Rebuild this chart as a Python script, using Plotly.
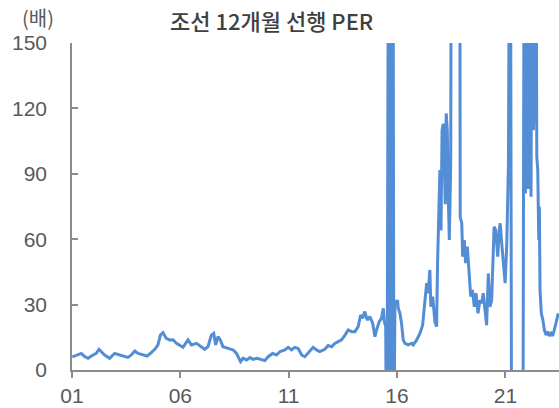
import plotly.graph_objects as go

# 조선 12개월 선행 PER (배) — 값은 그림에서 읽은 근사치
DATES = [
    "2001-01-05", "2001-03-15", "2001-06-05", "2001-08-01", "2001-09-28", "2001-12-20",
    "2002-02-15", "2002-04-01", "2002-05-10", "2002-07-05", "2002-09-28", "2002-12-20",
    "2003-03-15", "2003-06-05", "2003-08-01", "2003-09-28", "2003-11-25",
    "2004-01-20", "2004-04-12", "2004-06-18", "2004-08-15", "2004-10-28", "2004-12-20",
    "2005-01-30", "2005-03-15", "2005-05-10", "2005-07-05", "2005-09-01", "2005-10-28", "2005-12-25",
    "2006-02-15", "2006-05-10", "2006-07-08", "2006-10-01", "2006-12-25",
    "2007-02-15", "2007-04-12", "2007-06-08", "2007-07-18", "2007-08-20", "2007-09-28",
    "2007-11-05", "2007-12-20",
    "2008-03-18", "2008-06-10", "2008-08-05", "2008-10-12", "2008-11-25",
    "2009-01-22", "2009-03-18", "2009-05-12", "2009-07-18", "2009-10-01", "2009-11-25",
    "2010-01-20", "2010-04-05", "2010-06-10", "2010-08-05", "2010-10-28", "2010-12-25",
    "2011-02-18", "2011-04-15", "2011-06-10", "2011-08-08", "2011-10-01", "2011-11-25",
    "2012-02-18", "2012-04-15", "2012-06-10", "2012-09-01", "2012-10-28", "2012-12-25",
    "2013-02-18", "2013-04-15", "2013-06-10", "2013-08-08", "2013-10-01", "2013-11-28",
    "2014-01-22", "2014-03-18", "2014-04-28", "2014-06-01", "2014-07-08", "2014-08-18",
    "2014-10-01", "2014-11-18", "2014-12-25",
    "2015-01-22", "2015-03-08", "2015-04-15", "2015-05-15", "2015-06-01", "2015-06-25",
    "2015-07-05", "2015-07-22", "2015-08-18", "2015-09-01", "2015-09-20", "2015-10-08",
    "2015-10-22", "2015-11-10", "2015-11-28",
    "2016-01-12", "2016-01-22", "2016-02-20", "2016-03-18", "2016-04-15", "2016-05-15",
    "2016-07-08", "2016-09-05", "2016-10-01", "2016-11-28",
    "2017-01-22", "2017-03-08", "2017-04-15", "2017-05-15", "2017-06-10", "2017-07-08",
    "2017-07-25", "2017-08-25", "2017-10-01", "2017-10-30", "2017-11-15", "2017-12-08",
    "2017-12-24",
    "2018-01-12", "2018-01-30", "2018-02-20", "2018-03-08", "2018-03-25", "2018-04-10",
    "2018-04-28", "2018-05-15", "2018-06-01", "2018-06-25", "2018-07-10", "2018-09-05",
    "2018-11-20", "2018-12-02", "2018-12-28",
    "2019-01-12", "2019-02-08", "2019-03-02", "2019-04-01", "2019-04-28", "2019-05-28",
    "2019-06-25", "2019-07-28", "2019-08-25", "2019-09-28", "2019-10-30", "2019-12-02",
    "2019-12-25",
    "2020-01-22", "2020-02-20", "2020-03-20", "2020-04-15", "2020-05-15", "2020-06-25",
    "2020-07-22", "2020-08-25", "2020-09-20", "2020-10-05", "2020-11-01", "2020-11-28",
    "2020-12-28",
    "2021-01-25", "2021-02-22", "2021-03-22", "2021-04-15", "2021-10-25", "2021-11-20",
    "2021-12-05",
    "2022-01-01", "2022-01-22", "2022-02-12", "2022-03-10", "2022-04-01", "2022-04-18",
    "2022-05-05", "2022-05-22", "2022-06-15", "2022-07-01", "2022-07-18", "2022-07-28",
    "2022-08-08", "2022-08-30", "2022-09-25", "2022-10-20", "2022-11-18", "2022-12-15",
    "2023-01-12", "2023-02-10", "2023-03-10", "2023-04-05", "2023-05-05", "2023-06-12",
]
PER = [
    6.0, 6.9, 7.6, 6.2, 5.4, 6.9,
    7.6, 9.5, 8.4, 6.9, 5.4, 7.6,
    6.9, 6.4, 5.8, 6.9, 8.7,
    7.6, 6.9, 6.4, 7.6, 9.5, 11.5,
    16.0, 17.1, 14.5, 13.8, 13.9, 12.2, 11.2,
    10.4, 13.8, 11.5, 12.2, 10.7,
    9.5, 10.7, 16.0, 16.8, 11.5, 15.3,
    13.8, 10.7,
    9.9, 9.2, 7.6, 3.8, 5.4,
    4.6, 5.7, 4.9, 5.4, 4.6, 4.3,
    6.1, 7.6, 6.9, 8.4, 9.2, 10.4,
    9.2, 10.4, 9.9, 6.9, 6.1, 7.6,
    10.4, 9.2, 8.4, 9.5, 11.2, 10.7,
    12.2, 13.0, 13.8, 16.0, 18.4, 17.6,
    17.6, 19.9, 25.2, 23.7, 26.8, 22.9,
    24.5, 21.4, 15.3,
    18.4, 22.2, 23.7, 28.3, 22.2, 19.9,
    -30, 20.0, 300, -30, 300, -30,
    300, -30, 30.6,
    32.0, 28.3, 26.0, 21.4, 13.8, 12.2,
    11.5, 12.2, 11.5, 13.8,
    16.8, 20.6, 33.6, 39.8, 35.2, 45.9,
    29.0, 33.6, 22.2, 19.9, 49.0, 70.0,
    91.7,
    64.0, 110.0, 113.0, 88.7, 76.0, 117.7,
    110.0, 79.5, 59.6, 95.0, 300, 250,
    300, 70.0, 67.4,
    52.0, 59.6, 49.0, 56.6, 45.9, 33.6,
    36.7, 29.0, 35.2, 26.0, 32.0, 30.6,
    35.2,
    27.5, 20.6, 44.3, 29.0, 32.0, 65.7,
    64.2, 52.0, 64.0, 67.3, 58.0, 49.0,
    39.8,
    58.0, 94.8, 300, -30, -30, 300,
    81.0,
    300, 83.0, 300, 79.5, 300, 110.0,
    125.0, 300, 97.8, 91.7, 59.6, 75.0,
    36.7, 26.0, 23.0, 18.3, 16.0, 17.6,
    15.6, 16.8, 15.6, 18.3, 21.4, 26.0,
]

X_RANGE = ["2001-01-01", "2023-06-24"]
Y_TICKS = [0, 30, 60, 90, 120, 150]

LINE = "#538dd5"
AXIS = "#8c8c8c"
TXT = "#595959"
FONT = "Liberation Sans, Arial, sans-serif"
KFONT = "Noto Sans CJK KR, sans-serif"

fig = go.Figure(go.Scatter(
    x=DATES, y=PER, mode="lines",
    line=dict(color=LINE, width=3), hoverinfo="skip"))

fig.update_layout(
    width=559, height=408,
    paper_bgcolor="white", plot_bgcolor="white",
    showlegend=False,
    margin=dict(l=72, r=0, t=43, b=38),
    font=dict(family=FONT, color=TXT, size=21),
    xaxis=dict(
        type="date", range=X_RANGE, dtick="M60", tick0="2001-01-01",
        tickformat="%y", showgrid=False, zeroline=False,
        showline=True, linecolor=AXIS, linewidth=1.5,
        ticks="outside", ticklen=6, tickcolor=AXIS, tickwidth=1.5,
        tickfont=dict(size=21, color=TXT, family=FONT)),
    yaxis=dict(
        range=[0, 150], tickvals=Y_TICKS, showgrid=False, zeroline=False,
        showline=True, linecolor=AXIS, linewidth=1.5,
        ticks="inside", ticklen=6, tickcolor=AXIS, tickwidth=1.5,
        ticklabelstandoff=19,
        tickfont=dict(size=21, color=TXT, family=FONT)),
    annotations=[
        dict(text="조선 12개월 선행 PER", xref="paper", yref="paper",
             x=(271 - 72) / 487, y=1, yshift=23, xanchor="center", yanchor="middle",
             showarrow=False,
             font=dict(family=KFONT, size=22, color="#404040", weight=500)),
        dict(text="(배)", xref="paper", yref="paper",
             x=(56 - 72) / 487, y=1, yshift=26, xanchor="right", yanchor="middle",
             showarrow=False, font=dict(family=KFONT, size=20, color=TXT)),
    ],
)

fig.write_html("out.html", config=dict(displayModeBar=False),
               post_script="document.body.style.margin='0';")
